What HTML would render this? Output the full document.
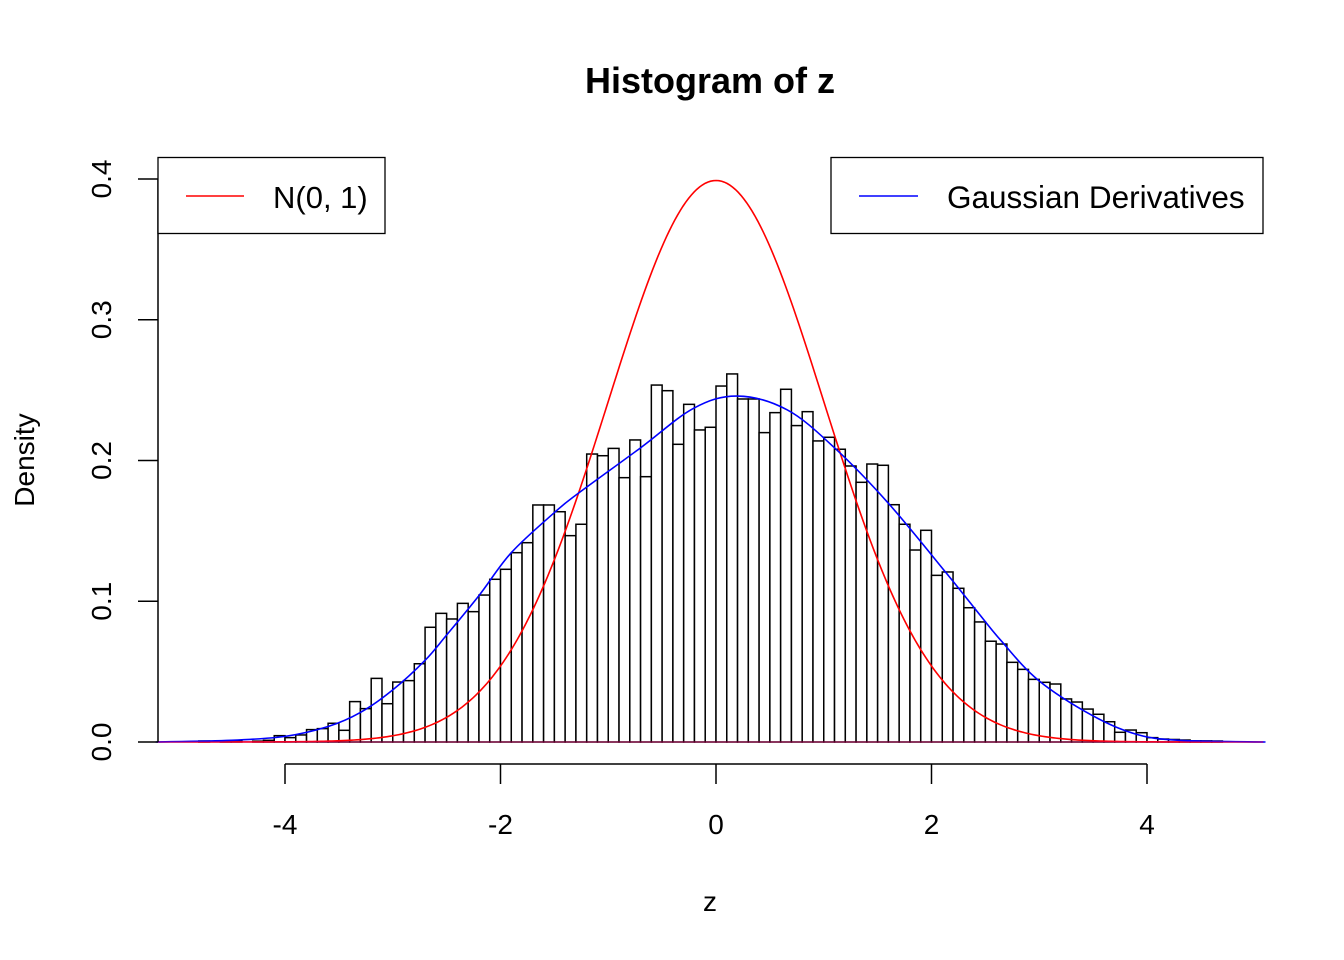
<!DOCTYPE html>
<html><head><meta charset="utf-8"><style>
body{margin:0;background:#fff}
svg{display:block;font-family:"Liberation Sans",Arial,sans-serif}
</style></head><body>
<svg id="chart" width="1344" height="960" viewBox="0 0 1344 960">
<rect width="1344" height="960" fill="#fff"/>
<text x="710" y="93" text-anchor="middle" font-size="36" font-weight="bold">Histogram of z</text>
<text x="710" y="911" text-anchor="middle" font-size="28">z</text>
<text transform="translate(34,460) rotate(-90)" text-anchor="middle" font-size="28">Density</text>
<g id="bars"></g>
<g id="curves"></g>
<g id="axes"></g>
<g>
<rect x="158" y="157.5" width="227" height="76" fill="#fff" stroke="#000" stroke-width="1.3"/>
<line x1="186" y1="196" x2="244" y2="196" stroke="#f00" stroke-width="1.5"/>
<text x="273" y="208" font-size="31">N(0, 1)</text>
</g>
<g>
<rect x="831" y="157.5" width="432" height="76" fill="#fff" stroke="#000" stroke-width="1.3"/>
<line x1="859" y1="196" x2="918" y2="196" stroke="#00f" stroke-width="1.5"/>
<text x="947" y="208" font-size="31.5">Gaussian Derivatives</text>
</g>
</svg>
<script>
const binStart = -4.8;
const binWidth = 0.1;
const densities = [0.0007,0,0.0007,0.0007,0,0.0006,0.0012,0.0045,0.0031,0.005,0.0088,0.0095,0.0133,0.0083,0.0287,0.0237,0.0452,0.0272,0.0426,0.0436,0.0556,0.0815,0.0914,0.0874,0.0985,0.0926,0.1044,0.1156,0.1227,0.1345,0.1416,0.1684,0.1684,0.1636,0.1466,0.1547,0.2046,0.2034,0.2086,0.1878,0.2146,0.1885,0.2536,0.2496,0.2115,0.2399,0.2217,0.2236,0.2529,0.2615,0.2437,0.2437,0.2198,0.234,0.2506,0.2248,0.2347,0.2139,0.2165,0.208,0.1961,0.1845,0.1975,0.1966,0.1686,0.1547,0.1364,0.1504,0.1184,0.1208,0.1092,0.0954,0.0853,0.0716,0.0696,0.0566,0.0516,0.0445,0.0424,0.0412,0.0306,0.0284,0.0234,0.0197,0.0144,0.0069,0.0085,0.0066,0.0031,0.0021,0.0018,0.0014,0.0008,0.0008,0.0007];
const gdX = [-5.2,-4.5,-4,-3.6,-3.3,-3,-2.7,-2.5,-2.2,-1.9,-1.5,-1.29,-0.7,-0.21,0.2,0.66,1.1,1.6,2.14,2.45,2.64,2.99,3.5,3.9,4.3,5.1];
const gdY = [0,0.0012,0.004,0.011,0.021,0.037,0.058,0.076,0.104,0.1345,0.163,0.176,0.209,0.237,0.2458,0.236,0.209,0.1696,0.1198,0.0902,0.0725,0.044,0.0185,0.0055,0.0012,0];
const xTicks = [-4,-2,0,2,4];
const yTicks = [0,0.1,0.2,0.3,0.4];
const yTickLabels = ["0.0","0.1","0.2","0.3","0.4"];

const NS="http://www.w3.org/2000/svg";
const sx = v => 716 + v*107.75;
const sy = v => 742 - v*1407.5;
function mk(tag, attrs, parent){const e=document.createElementNS(NS,tag);for(const k in attrs)e.setAttribute(k,attrs[k]);parent.appendChild(e);return e;}

const bars=document.getElementById('bars');
densities.forEach((d,i)=>{
  const x0=sx(binStart+i*binWidth), x1=sx(binStart+(i+1)*binWidth);
  const r=mk('rect',{x:x0,y:sy(d),width:x1-x0,height:sy(0)-sy(d),fill:'#fff',stroke:'#000','stroke-width':1.5},bars);
  
  
});

const curves=document.getElementById('curves');
let p='';
for(let i=0;i<=400;i++){const x=-5.18+i*(10.26/400);const y=Math.exp(-x*x/2)/Math.sqrt(2*Math.PI);p+=(i?'L':'M')+sx(x).toFixed(2)+','+sy(y).toFixed(2);}
const red=mk('path',{d:p,fill:'none',stroke:'#f00','stroke-width':1.6},curves);


let q='M'+sx(gdX[0])+','+sy(gdY[0]);
for(let i=0;i<gdX.length-1;i++){
  const P=j=>[sx(gdX[Math.max(0,Math.min(gdX.length-1,j))]),sy(gdY[Math.max(0,Math.min(gdX.length-1,j))])];
  const p0=P(i-1),p1=P(i),p2=P(i+1),p3=P(i+2);
  const c1=[p1[0]+(p2[0]-p0[0])/6,p1[1]+(p2[1]-p0[1])/6];
  const c2=[p2[0]-(p3[0]-p1[0])/6,p2[1]-(p3[1]-p1[1])/6];
  q+='C'+c1.join(',')+' '+c2.join(',')+' '+p2.join(',');
}
const blue=mk('path',{d:q,fill:'none',stroke:'#00f','stroke-width':1.6},curves);


mk('line',{x1:158,y1:742,x2:1263,y2:742,stroke:'#e0006a','stroke-width':1.2,opacity:0.6},curves);

const axes=document.getElementById('axes');
const xl=mk('line',{x1:sx(xTicks[0]),y1:764,x2:sx(xTicks[xTicks.length-1]),y2:764,stroke:'#000','stroke-width':1.5},axes);


xTicks.forEach(t=>{
  mk('line',{x1:sx(t),y1:764,x2:sx(t),y2:784,stroke:'#000','stroke-width':1.5},axes);
  const tx=mk('text',{x:sx(t),y:834,'text-anchor':'middle','font-size':28},axes);
  tx.textContent=String(t);
  
  
});
const yl=mk('line',{x1:158,y1:sy(yTicks[0]),x2:158,y2:sy(yTicks[yTicks.length-1]),stroke:'#000','stroke-width':1.5},axes);


yTicks.forEach((t,i)=>{
  mk('line',{x1:138,y1:sy(t),x2:158,y2:sy(t),stroke:'#000','stroke-width':1.5},axes);
  const tx=mk('text',{transform:`translate(111,${sy(t)}) rotate(-90)`,'text-anchor':'middle','font-size':28},axes);
  tx.textContent=yTickLabels[i];
  
  
});
</script>
</body></html>
